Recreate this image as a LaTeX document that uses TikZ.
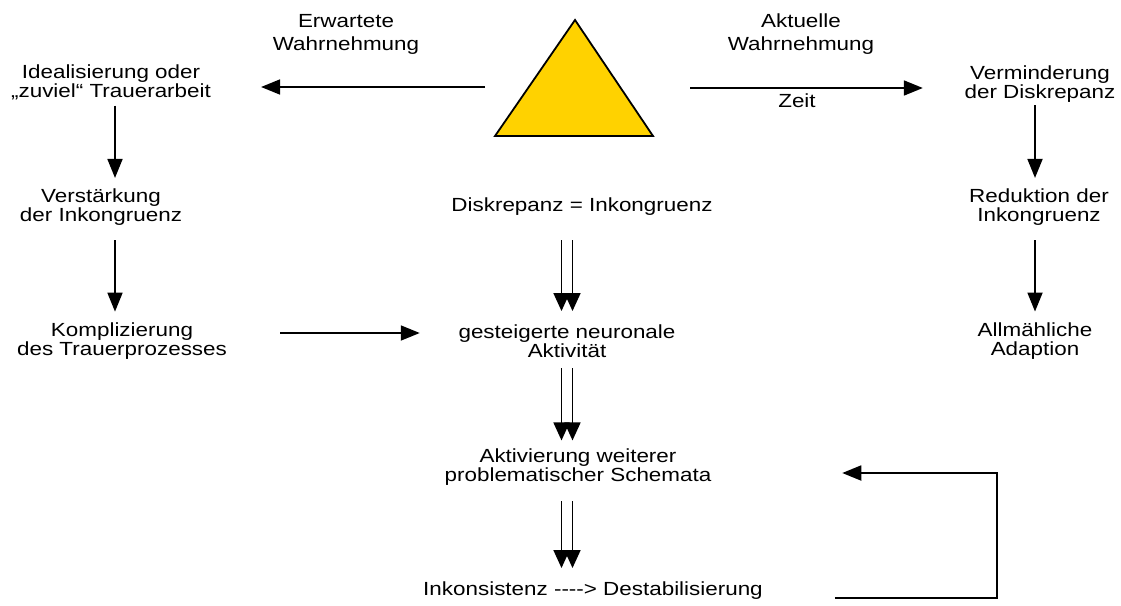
\documentclass[tikz,border=0pt]{standalone}
\usepackage{fontspec}
\newfontfamily\lbfont{Liberation Sans}[FakeStretch=1.18]
\usetikzlibrary{arrows.meta}
\definecolor{gold}{RGB}{255,210,0}
\tikzset{
  lbl/.style={align=center, inner sep=0pt, anchor=base, font=\lbfont\fontsize{19}{19}\selectfont},
  toplbl/.style={lbl, font=\lbfont\fontsize{19}{22.5}\selectfont},
  arr/.style={line width=1.8pt, -{Triangle[length=19pt,width=15pt]}},
  darr/.style={line width=1.7pt, -{Triangle[length=18pt,width=16pt]}}
}
\begin{document}
\begin{tikzpicture}[x=1pt,y=-1pt]
\useasboundingbox (0,0) rectangle (1121,605);
% triangle
\coordinate (tA) at (575,20);
\coordinate (tB) at (495,136);
\coordinate (tC) at (653,136);
\draw[line width=1.8pt, fill=gold, line join=miter] (tA) -- (tB) -- (tC) -- cycle;
\coordinate (tl) at (485,87);
\coordinate (tr) at (690,88);
% columns
\coordinate (colL) at (115,0);
\coordinate (colR) at (1035,0);
\coordinate (colCa) at (561.5,0);
\coordinate (colCb) at (572.5,0);
\coordinate (hy) at (0,333);
\coordinate (fb1) at (997,598);
\coordinate (fb2) at (997,473);
% labels (base = last line baseline)
\node[toplbl] (erw) at (346,50) {Erwartete\\Wahrnehmung};
\node[toplbl] (akt) at (801,50) {Aktuelle\\Wahrnehmung};
\node[lbl] (zeit) at (797,107) {Zeit};
\node[lbl] (ideal) at (111,97.5) {Idealisierung oder\\„zuviel“ Trauerarbeit};
\node[lbl] (verst) at (101,221.5) {Verstärkung\\der Inkongruenz};
\node[lbl] (kompl) at (122,355.5) {Komplizierung\\des Trauerprozesses};
\node[lbl] (diskr) at (582,211.5) {Diskrepanz = Inkongruenz};
\node[lbl] (gest) at (567,357) {gesteigerte neuronale\\Aktivität};
\node[lbl] (aktiv) at (578,481) {Aktivierung weiterer\\problematischer Schemata};
\node[lbl] (inkons) at (593,595) {Inkonsistenz ----> Destabilisierung};
\node[lbl] (vermin) at (1040,98.5) {Verminderung\\der Diskrepanz};
\node[lbl] (redukt) at (1039,221.7) {Reduktion der\\Inkongruenz};
\node[lbl] (allm) at (1035,355.5) {Allmähliche\\Adaption};
% horizontal arrows at top
\draw[arr, shorten >=50pt] (tl) -- (tl -| ideal.east);
\draw[arr, shorten >=41.6pt] (tr) -- (tr -| vermin.west);
% left column
\draw[arr, shorten <=5.5pt, shorten >=10.6pt] (ideal.south -| colL) -- (verst.north -| colL);
\draw[arr, shorten <=14.5pt, shorten >=10.9pt] (verst.south -| colL) -- (kompl.north -| colL);
\draw[arr, shorten <=53pt, shorten >=38.6pt] (kompl.east |- hy) -- (gest.west |- hy);
% right column
\draw[arr, shorten <=2.5pt, shorten >=10.8pt] (vermin.south -| colR) -- (redukt.north -| colR);
\draw[arr, shorten <=14.3pt, shorten >=11pt] (redukt.south -| colR) -- (allm.north -| colR);
% center double arrows
\foreach \c in {colCa,colCb}{
  \draw[darr, shorten <=24.5pt, shorten >=13pt] (diskr.south -| \c) -- (gest.north -| \c);
  \draw[darr, shorten <=11pt, shorten >=7.6pt] (gest.south -| \c) -- (aktiv.north -| \c);
  \draw[darr, shorten <=16pt, shorten >=13pt] (aktiv.south -| \c) -- (inkons.north -| \c);
}
% feedback loop
\draw[arr, line join=miter, shorten <=72pt, shorten >=130.7pt] (inkons.east |- fb1) -- (fb1) -- (fb2) -- (aktiv.east |- fb2);
\end{tikzpicture}
\end{document}
